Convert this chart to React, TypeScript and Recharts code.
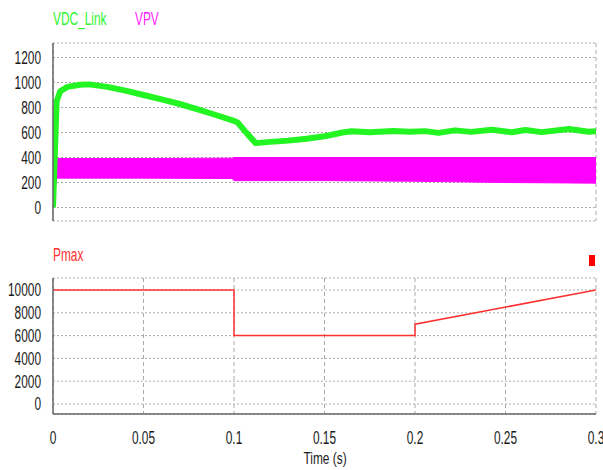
import React from 'react';
import {
  Area,
  CartesianGrid,
  ComposedChart,
  Line,
  LineChart,
  XAxis,
  YAxis,
} from 'recharts';

// time axis
const timeTicks = [0, 0.05, 0.1, 0.15, 0.2, 0.25, 0.3];
const voltTicks = [0, 200, 400, 600, 800, 1000, 1200];
const powerTicks = [0, 2000, 4000, 6000, 8000, 10000];

// VDC_Link (mean of the ripple band)
const vdcTime = [
  0, 0.002, 0.004, 0.008, 0.015, 0.02, 0.03, 0.04, 0.05, 0.06, 0.07, 0.08, 0.09,
  0.1, 0.102, 0.107, 0.112, 0.12, 0.13, 0.14, 0.15, 0.16, 0.165, 0.175, 0.188,
  0.197, 0.2055, 0.213, 0.222, 0.231, 0.2424, 0.2535, 0.261, 0.27, 0.285, 0.296, 0.3,
];
const vdcValue = [
  0, 850, 930, 965, 982, 985, 965, 935, 900, 865, 828, 785, 740,
  693, 680, 595, 515, 525, 535, 550, 570, 600, 610, 602, 612,
  606, 611, 597, 617, 605, 622, 602, 620, 603, 628, 606, 610,
];

// VPV switching ripple envelope
const pvTime = [0, 0.0015, 0.002, 0.05, 0.099, 0.1, 0.15, 0.2, 0.25, 0.3];
const pvLow = [0, 180, 235, 235, 232, 215, 215, 210, 200, 195];
const pvHigh = [20, 330, 392, 392, 395, 400, 400, 400, 400, 400];

// Pmax reference
const pmaxTime = [0, 0.1, 0.1, 0.2, 0.2, 0.3];
const pmaxValue = [10000, 10000, 6000, 6000, 7000, 10000];

const topRows = [
  ...vdcTime.map((t, i) => ({ t, vdc: vdcValue[i] })),
  ...pvTime.map((t, i) => ({ t, pv: [pvLow[i], pvHigh[i]] })),
].sort((a, b) => a.t - b.t);

const pmaxRows = pmaxTime.map((t, i) => ({ t, pmax: pmaxValue[i] }));

const FONT = '"Liberation Sans", Arial, sans-serif';
const SQ = 0.66;
const BORDER = { stroke: '#666', strokeWidth: 1.5 };

function YTick({ x, y, payload }: any) {
  return (
    <text
      transform={`translate(${x},${y}) scale(${SQ},1)`}
      textAnchor="end"
      dy="0.35em"
      fontSize={18}
      fontFamily={FONT}
      fill="#1a1a1a"
    >
      {payload.value}
    </text>
  );
}

function XTick({ x, y, payload }: any) {
  return (
    <text
      transform={`translate(${x},${y}) scale(${SQ},1)`}
      textAnchor="middle"
      dy="0.71em"
      fontSize={18}
      fontFamily={FONT}
      fill="#1a1a1a"
    >
      {String(payload.value)}
    </text>
  );
}

function Label({ left, top, color, children }: any) {
  return (
    <div
      style={{
        position: 'absolute',
        left,
        top,
        fontFamily: FONT,
        fontSize: 18,
        lineHeight: '18px',
        color,
        transform: `scaleX(${SQ})`,
        transformOrigin: 'left center',
        whiteSpace: 'nowrap',
      }}
    >
      {children}
    </div>
  );
}

export default function App() {
  return (
    <div style={{ position: 'absolute', left: 0, top: 0, width: 603, height: 470, background: '#fff' }}>
      <ComposedChart
        width={603}
        height={235}
        data={topRows}
        margin={{ top: 43, right: 7, left: 0, bottom: 14 }}
      >
        <CartesianGrid vertical={false} stroke="#aaa" strokeDasharray="2 2" />
        <CartesianGrid horizontal={false} stroke="#aaa" strokeDasharray="4 3" />
        <XAxis
          dataKey="t"
          type="number"
          domain={[0, 0.3]}
          ticks={timeTicks}
          interval={0}
          allowDataOverflow
          tick={false}
          tickLine={false}
          height={0}
          axisLine={BORDER}
        />
        <XAxis xAxisId="top" orientation="top" type="number" domain={[0, 0.3]} tick={false} tickLine={false} height={0} axisLine={BORDER} />
        <YAxis
          type="number"
          domain={[-108, 1316]}
          ticks={voltTicks}
          interval={0}
          allowDataOverflow
          width={53}
          tick={<YTick />}
          tickLine={false}
          tickMargin={6}
          axisLine={BORDER}
        />
        <YAxis yAxisId="right" orientation="right" width={0} tick={false} tickLine={false} axisLine={BORDER} />
        <Area
          dataKey="pv"
          type="linear"
          stroke="#ff00ff"
          strokeWidth={1}
          fill="#ff00ff"
          fillOpacity={1}
          connectNulls
          dot={false}
          activeDot={false}
          isAnimationActive={false}
        />
        <Line
          dataKey="vdc"
          type="linear"
          stroke="#22f522"
          strokeWidth={6}
          strokeLinejoin="round"
          connectNulls
          dot={false}
          activeDot={false}
          isAnimationActive={false}
        />
      </ComposedChart>

      <LineChart
        width={603}
        height={235}
        data={pmaxRows}
        margin={{ top: 43, right: 7, left: 0, bottom: 0 }}
      >
        <CartesianGrid vertical={false} stroke="#aaa" strokeDasharray="2 2" />
        <CartesianGrid horizontal={false} stroke="#aaa" strokeDasharray="4 3" />
        <XAxis
          dataKey="t"
          type="number"
          domain={[0, 0.3]}
          ticks={timeTicks}
          interval={0}
          allowDataOverflow
          tick={<XTick />}
          tickLine={false}
          tickMargin={11}
          height={56}
          axisLine={BORDER}
        />
        <XAxis xAxisId="top" orientation="top" type="number" domain={[0, 0.3]} tick={false} tickLine={false} height={0} axisLine={BORDER} />
        <YAxis
          type="number"
          domain={[-877, 11053]}
          ticks={powerTicks}
          interval={0}
          allowDataOverflow
          width={53}
          tick={<YTick />}
          tickLine={false}
          tickMargin={6}
          axisLine={BORDER}
        />
        <YAxis yAxisId="right" orientation="right" width={0} tick={false} tickLine={false} axisLine={BORDER} />
        <Line
          dataKey="pmax"
          type="linear"
          stroke="#ff3030"
          strokeWidth={1.5}
          dot={false}
          activeDot={false}
          isAnimationActive={false}
        />
      </LineChart>

      <Label left={53} top={10} color="#2ef52e">VDC_Link</Label>
      <Label left={135} top={10} color="#ff22ff">VPV</Label>
      <Label left={53} top={246} color="#ff3030">Pmax</Label>
      <div style={{ position: 'absolute', left: 589, top: 255, width: 6, height: 11, background: '#ff0000' }} />
      <div
        style={{
          position: 'absolute',
          left: 325,
          top: 450,
          fontFamily: FONT,
          fontSize: 17,
          lineHeight: '17px',
          color: '#222',
          transform: `translateX(-50%) scaleX(0.7)`,
          whiteSpace: 'nowrap',
        }}
      >
        Time (s)
      </div>
    </div>
  );
}
